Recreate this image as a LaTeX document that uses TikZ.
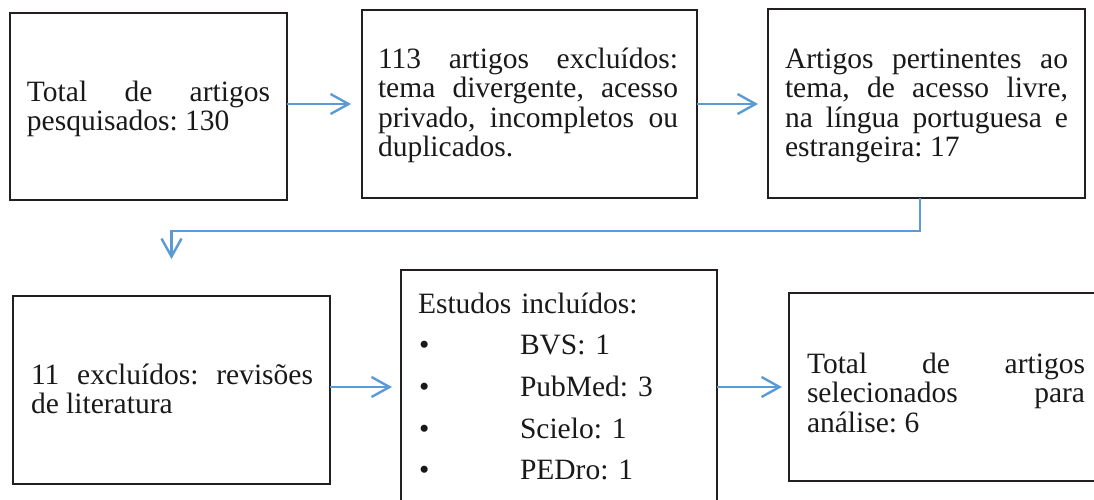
\documentclass[tikz,border=0pt]{standalone}
\usepackage{fontspec}
\setmainfont{Liberation Serif}
\usetikzlibrary{arrows.meta}
\definecolor{arrblue}{HTML}{5B9BD5}
\definecolor{boxline}{HTML}{231F20}
\frenchspacing
\begin{document}
\begin{tikzpicture}[x=1pt,y=-1pt,
  box/.style={draw=boxline, line width=2pt, inner sep=0pt, outer sep=0pt, anchor=north west},
  txt/.style={anchor=base west, inner sep=0pt, outer sep=0pt, align=justify, text=black!90, font=\frenchspacing\fontsize{29.5}{29.6}\selectfont},
  arr/.style={draw=arrblue, line width=2.4pt, -{Straight Barb[length=18pt,width=20pt,line width=2.4pt]}}]
\useasboundingbox (0,0) rectangle (1094,499);
\clip (0,0) rectangle (1094,499);
% top row
\node[box, minimum width=277pt, minimum height=187pt] (b1) at (10,13) {};
\node[box, minimum width=335pt, minimum height=188pt] (b2) at (362,10) {};
\node[box, minimum width=317pt, minimum height=189pt] (b3) at (768,9) {};
% bottom row
\node[box, minimum width=317pt, minimum height=188pt] (b4) at (13,296) {};
\node[box, minimum width=316pt, minimum height=250pt] (b5) at (401,270) {};
\node[box, minimum width=330pt, minimum height=188pt] (b6) at (789,293) {};
% texts
\node[txt, text width=243pt] (t1) at (27,101) {Total\hfill de\hfill artigos\\pesquisados: 130};
\node[txt, text width=300pt] (t2) at (378,68) {113\hfill artigos\hfill excluídos:\\tema\hfill divergente,\hfill acesso\\privado,\hfill incompletos\hfill ou\\duplicados.};
\node[txt, text width=283pt] (t3) at (785,68) {Artigos\hfill pertinentes\hfill ao\\tema,\hfill de\hfill acesso\hfill livre,\\na\hfill língua\hfill portuguesa\hfill e\\estrangeira: 17};
\node[txt, text width=282pt] (t4) at (31,384) {11\hfill excluídos:\hfill revisões\\de literatura};
\node[txt, text width=290pt, align=left] (t5) at (418,313) {Estudos incluídos:\\[12.1pt]
  \hspace*{1pt}\makebox[101pt][l]{•}BVS: 1\\[12.1pt]
  \hspace*{1pt}\makebox[101pt][l]{•}PubMed: 3\\[12.1pt]
  \hspace*{1pt}\makebox[101pt][l]{•}Scielo: 1\\[12.1pt]
  \hspace*{1pt}\makebox[101pt][l]{•}PEDro: 1};
\node[txt, text width=278pt] (t6) at (807,373) {Total\hfill de\hfill artigos\\selecionados\hfill para\\análise: 6};
% connectors
\draw[arr, shorten >=11pt] (b1.east |- b2.west) -- (b2.west);
\draw[arr, shorten >=10pt] (b2.east) -- (b2.east -| b3.west);
\draw[arr, shorten >=37pt] ([xshift=-6.5pt]b3.south) -- ++(0,33) -| (b4.north);
\draw[arr, shorten >=9pt] ([yshift=3pt]b4.east) -- ([yshift=3pt]b4.east -| b5.west);
\draw[arr, shorten >=7pt] ([yshift=3pt]b4.east -| b5.east) -- ([yshift=3pt]b4.east -| b6.west);
\end{tikzpicture}
\end{document}
